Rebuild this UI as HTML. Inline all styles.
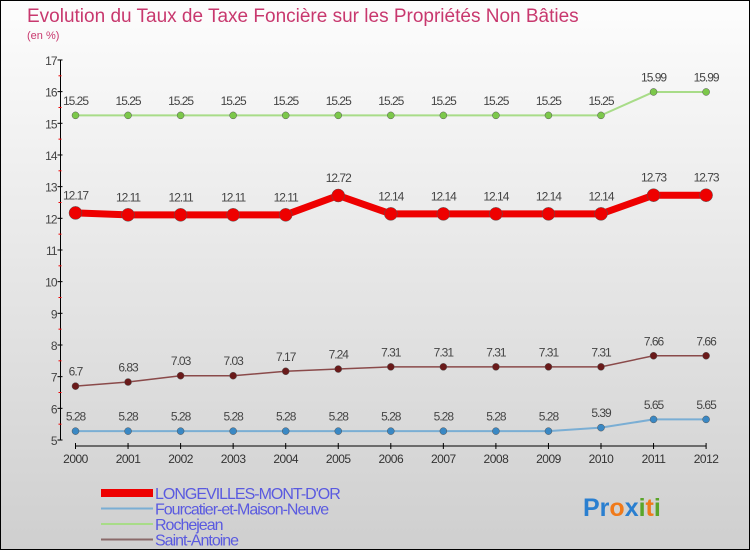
<!DOCTYPE html>
<html><head><meta charset="utf-8"><style>
html,body{margin:0;padding:0}
body{width:750px;height:550px;overflow:hidden;font-family:"Liberation Sans",sans-serif}
#wrap{position:relative;width:748px;height:548px;border:1px solid #000;background:linear-gradient(#fdfdfd,#cfcfcf)}
</style></head><body>
<div id="wrap">
<svg id="chart" width="748" height="548" style="position:absolute;left:0;top:0"></svg>
</div>
<script>
const years=[2000,2001,2002,2003,2004,2005,2006,2007,2008,2009,2010,2011,2012];
const seriesNames=["LONGEVILLES-MONT-D'OR","Fourcatier-et-Maison-Neuve","Rochejean","Saint-Antoine"];
const longevilles=[12.17,12.11,12.11,12.11,12.11,12.72,12.14,12.14,12.14,12.14,12.14,12.73,12.73];
const fourcatier=[5.28,5.28,5.28,5.28,5.28,5.28,5.28,5.28,5.28,5.28,5.39,5.65,5.65];
const rochejean=[15.25,15.25,15.25,15.25,15.25,15.25,15.25,15.25,15.25,15.25,15.25,15.99,15.99];
const saintAntoine=[6.7,6.83,7.03,7.03,7.17,7.24,7.31,7.31,7.31,7.31,7.31,7.66,7.66];
const yTicks=[5,6,7,8,9,10,11,12,13,14,15,16,17];
const NS="http://www.w3.org/2000/svg";
const svg=document.getElementById('chart');
const ox=-1,oy=-1;
function X(i){return 75.5+i*52.55+ox;}
function Y(v){return 440-(v-5)*31.67+oy;}
function el(t,a,p){const e=document.createElementNS(NS,t);for(const k in a)e.setAttribute(k,a[k]);(p||svg).appendChild(e);return e;}
function txt(x,y,s,a){const e=el('text',Object.assign({x:x,y:y},a));e.textContent=s;return e;}
let t=txt(26,21,"Evolution du Taux de Taxe Foncière sur les Propriétés Non Bâties",{'font-size':19,fill:'#c8386e'});


t=txt(26,38,"(en %)",{'font-size':11,fill:'#c8386e'});


let ax=el('line',{x1:X(0)-15,y1:Y(17),x2:X(0)-15,y2:Y(5),stroke:'#000','stroke-width':1});


ax=el('line',{x1:X(0),y1:Y(5)+6,x2:X(12),y2:Y(5)+6,stroke:'#000','stroke-width':1});


yTicks.forEach(v=>{
 el('line',{x1:X(0)-18,y1:Y(v),x2:X(0)-13,y2:Y(v),stroke:'#000'});
 if(v<17)el('line',{x1:X(0)-17,y1:Y(v+0.5),x2:X(0)-14,y2:Y(v+0.5),stroke:'#e00'});
 const l=txt(X(0)-19,Y(v)+5,String(v),{'font-size':12,fill:'#444','text-anchor':'end','letter-spacing':'-1'});
 
 
});
years.forEach((yr,i)=>{
 el('line',{x1:X(i),y1:Y(5)+3,x2:X(i),y2:Y(5)+9,stroke:'#000'});
 const l=txt(X(i),Y(5)+23,String(yr),{'font-size':12,fill:'#333','text-anchor':'middle','letter-spacing':'-0.5'});
 
 
});
function series(vals,color,w,r,dot,name){
 const g=el('g',{});
 
 
 el('polyline',{points:vals.map((v,i)=>X(i)+','+Y(v)).join(' '),fill:'none',stroke:color,'stroke-width':w,'stroke-linejoin':'round'},g);
 vals.forEach((v,i)=>{
  const c=el('circle',{cx:X(i),cy:Y(v),r:r,fill:dot,stroke:'#555','stroke-width':0.5},g);
  
  
  const l=txt(X(i),Y(v)-(r+7),String(v),{'font-size':12,fill:'#444','text-anchor':'middle','letter-spacing':'-1'},g);
  
  
 });
}
series(rochejean,'#a8dc88',2,3.5,'#7cc84a','rochejean-series');
series(fourcatier,'#7aaed4',2,3.5,'#3a88c4','fourcatier-series');
series(saintAntoine,'#8a4a4a',1.5,3.5,'#6a1a1a','saint-antoine-series');
series(longevilles,'#ee0000',7,6.5,'#ee0000','longevilles-series');
const lc=['#ee0000','#7aaed4','#a8dc88','#8a6a6a'],lw=[8,2,2,2];
seriesNames.forEach((n,i)=>{
 const g=el('g',{});
 
 
 const y=493+i*15.5;
 el('line',{x1:100,y1:y-1,x2:152,y2:y-1,stroke:lc[i],'stroke-width':lw[i]},g);
 txt(154,y+5,n,{'font-size':16,fill:'#5a5ae0','letter-spacing':'-1'},g);
});
const lg=el('text',{x:582,y:515,'font-size':25,'font-weight':'bold'});


[['Pr','#2a7fd0'],['o','#f07a1a'],['x','#2a7fd0'],['i','#5aa52a'],['t','#f07a1a'],['i','#5aa52a']].forEach(([s,c])=>{const sp=el('tspan',{fill:c},lg);sp.textContent=s;});
</script>
</body></html>
